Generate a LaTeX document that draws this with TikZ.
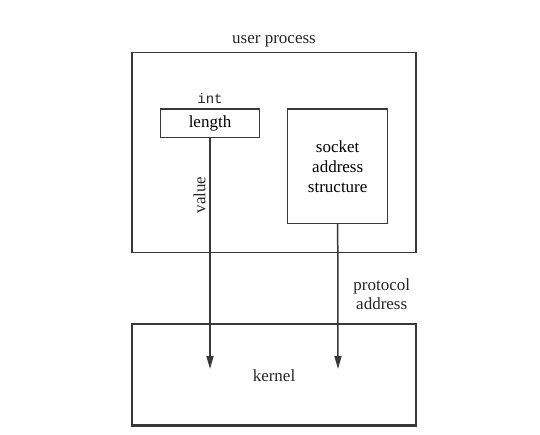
\documentclass[tikz,border=0pt]{standalone}
\usepackage{fontspec}
\setmainfont{Liberation Serif}
\newfontfamily\monofont{Liberation Mono}
\usetikzlibrary{arrows.meta}
\definecolor{linec}{HTML}{383838}
\begin{document}
\begin{tikzpicture}[x=1pt,y=-1pt,
  box/.style={draw=linec,line width=1.5pt,inner sep=0pt,font=\fontsize{17}{20}\selectfont,align=center},
  lbl/.style={font=\fontsize{17}{19}\selectfont,inner sep=0pt,align=center,text=black!85},
  conn/.style={draw=linec,line width=1.5pt,-{Triangle[length=13pt,width=7pt]}}]
\useasboundingbox (0,0) rectangle (540,435);
\node[box,minimum width=283.7pt,minimum height=200pt] (user) at (274,152.3) {};
\node[lbl] (ulbl) at (274,41) {user process};
\node[box,minimum width=99.4pt,minimum height=28.7pt] (len) at (210,123.3) {length};
\node[lbl,font=\monofont\fontsize{14}{16}\selectfont] (int) at (210,98) {int};
\node[box,minimum width=100pt,minimum height=114.3pt] (sock) at (337.7,166.2) {socket\\address\\structure};
\node[box,minimum width=283.7pt,minimum height=101pt] (kern) at (274,374.5) {};
\draw[linec,line width=2.5pt] (kern.south west) -- (kern.south east);
\node[lbl] (klbl) at (274,376) {kernel};
\coordinate (e1) at (210,369);
\coordinate (e2) at (338,369);
\draw[conn] (len.south) -- (e1);
\draw[conn] (sock.south) -- (e2);
\node[lbl,rotate=90] (val) at (199.5,195) {value};
\node[lbl] (proto) at (381.7,294) {protocol\\address};
\end{tikzpicture}
\end{document}
